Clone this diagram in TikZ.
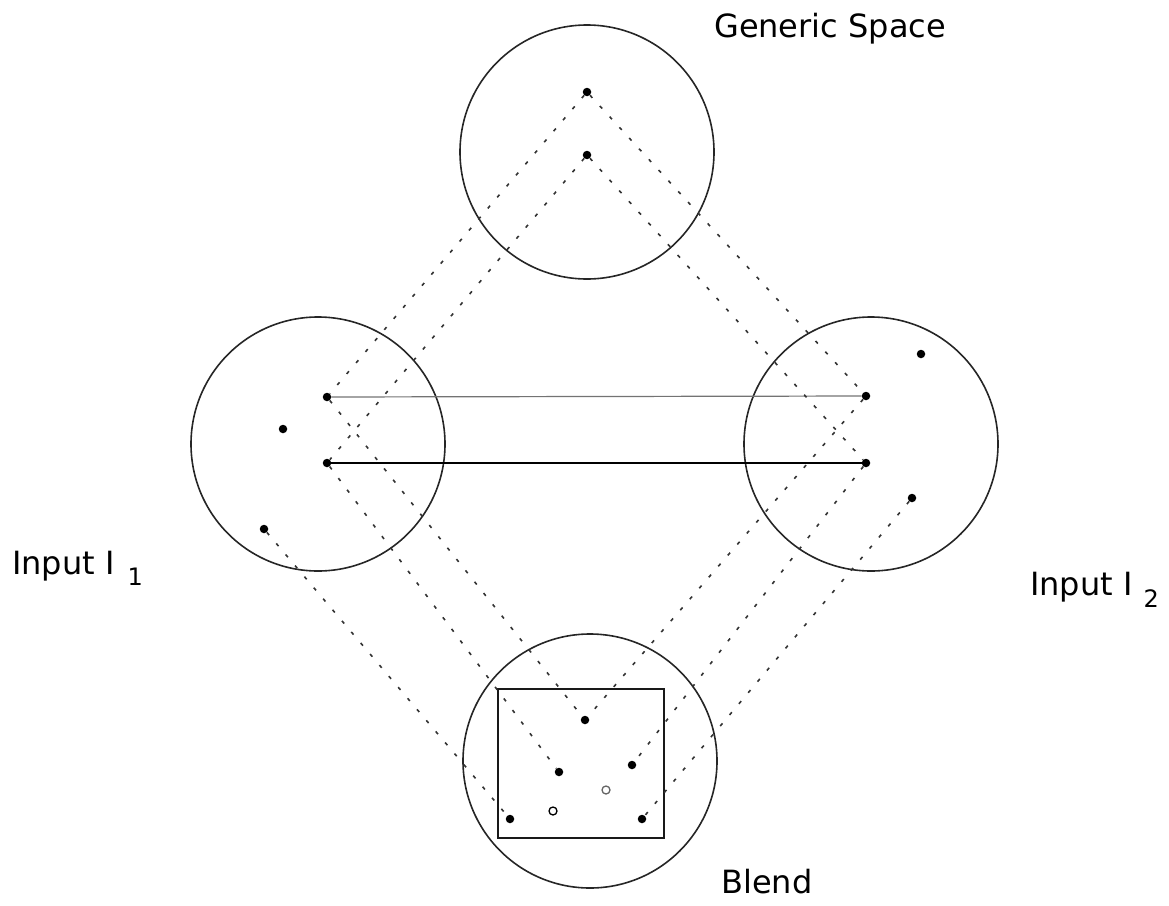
\documentclass[tikz,border=0pt]{standalone}
\usepackage{fontspec}
\setmainfont{DejaVu Sans}
\begin{document}
\begin{tikzpicture}[x=1pt,y=-1pt,
  space/.style={circle, draw=black!85, line width=1.6pt, minimum size=254pt, inner sep=0pt},
  pt/.style={circle, fill=black, inner sep=0pt, minimum size=8.5pt},
  opt/.style={circle, draw=black, line width=1.3pt, inner sep=0pt, minimum size=8pt},
  proj/.style={draw=black!80, line width=1.6pt, dash pattern=on 3.5pt off 11pt},
  lbl/.style={font=\fontsize{32}{32}\selectfont, inner sep=0pt, anchor=base west}]
\useasboundingbox (0,0) rectangle (1169,905);

% spaces
\node[space] (gen) at (587,152) {};
\node[space] (in1) at (318,444) {};
\node[space] (in2) at (871,444) {};
\node[space] (bld) at (590,761) {};
\draw[line width=2pt, draw=black!90] (498,689) rectangle (664,838);

% labels
\node[lbl] (lgen) at (714,37) {Generic Space};
\node[lbl] (lin1) at (12,574) {Input I\hspace{13pt}\raisebox{-11pt}{\fontsize{24}{24}\selectfont 1}};
\node[lbl] (lin2) at (1030,595) {Input I\hspace{11pt}\raisebox{-12pt}{\fontsize{24}{24}\selectfont 2}};
\node[lbl] (lbld) at (721,893) {Blend};

% elements
\node[pt] (g1) at (587,92) {};
\node[pt] (g2) at (587,155) {};
\node[pt] (a1) at (327,397) {};
\node[pt] (a2) at (327,463) {};
\node[pt] (a3) at (283,429) {};
\node[pt] (a4) at (264,529) {};
\node[pt] (b1) at (866,396) {};
\node[pt] (b2) at (866,463) {};
\node[pt] (b3) at (921,354) {};
\node[pt] (b4) at (912,498) {};
\node[pt] (c1) at (585,720) {};
\node[pt] (c2) at (559,772) {};
\node[pt] (c3) at (632,765) {};
\node[pt] (c4) at (510,819) {};
\node[pt] (c5) at (642,819) {};
\node[opt] (o1) at (553,811) {};
\node[opt, draw=black!60] (o2) at (606,790) {};

% cross-space mappings
\draw[draw=black!55, line width=1.2pt] (a1) -- (b1);
\draw[line width=2.4pt] (a2) -- (b2);

% projections
\draw[proj] (g1) -- (a1);
\draw[proj] (g1) -- (b1);
\draw[proj] (g2) -- (a2);
\draw[proj] (g2) -- (b2);
\draw[proj] (a1) -- (c1);
\draw[proj] (b1) -- (c1);
\draw[proj] (a2) -- (c2);
\draw[proj] (b2) -- (c3);
\draw[proj] (a4) -- (c4);
\draw[proj] (b4) -- (c5);
\end{tikzpicture}
\end{document}
